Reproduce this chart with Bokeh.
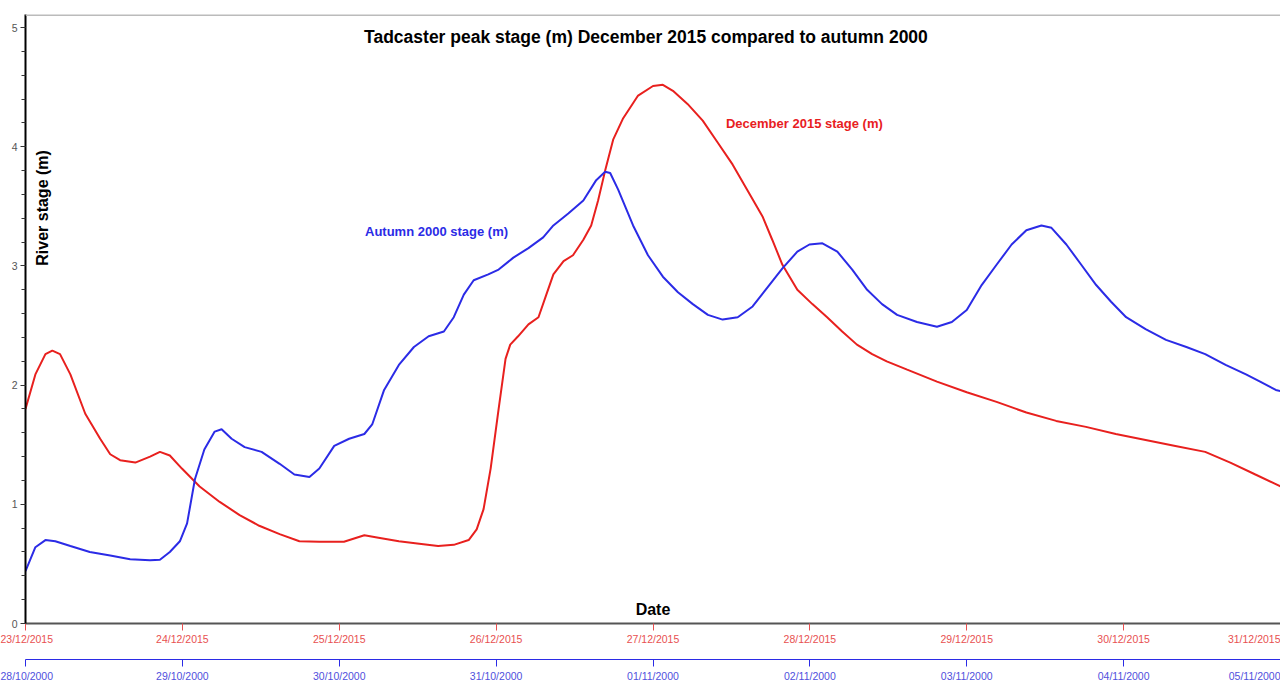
import math
from bokeh.plotting import figure
from bokeh.models import Range1d, LinearAxis, Label, Span, FixedTicker
from bokeh.embed import file_html
from bokeh.resources import INLINE

# ---- data (days from start of each window, river stage in m) ----
dec2015_day = [0, 0.063, 0.127, 0.171, 0.22, 0.286, 0.381, 0.476, 0.54, 0.603, 0.70, 0.794, 0.857, 0.92,
               0.997, 1.11, 1.238, 1.365, 1.49, 1.62, 1.746, 1.873, 2.03, 2.16, 2.25, 2.38, 2.51, 2.63,
               2.73, 2.825, 2.876, 2.92, 2.965, 3.016, 3.06, 3.09, 3.14, 3.206, 3.27, 3.32, 3.365, 3.43,
               3.49, 3.556, 3.606, 3.65, 3.695, 3.746, 3.81, 3.905, 4.0, 4.063, 4.127, 4.22, 4.317, 4.41,
               4.508, 4.60, 4.70, 4.76, 4.825, 4.92, 5.016, 5.11, 5.206, 5.30, 5.397, 5.49, 5.62, 5.81,
               6.0, 6.19, 6.38, 6.57, 6.76, 6.95, 7.14, 7.33, 7.52, 7.68, 7.84, 7.97, 8.0]
dec2015_stage = [1.80, 2.09, 2.26, 2.29, 2.26, 2.09, 1.76, 1.55, 1.42, 1.37, 1.35, 1.40, 1.44, 1.41,
                 1.30, 1.15, 1.02, 0.91, 0.82, 0.75, 0.69, 0.686, 0.686, 0.74, 0.72, 0.69, 0.67, 0.65,
                 0.66, 0.70, 0.79, 0.96, 1.30, 1.80, 2.22, 2.34, 2.41, 2.51, 2.57, 2.76, 2.93, 3.04,
                 3.09, 3.22, 3.34, 3.55, 3.80, 4.06, 4.24, 4.43, 4.51, 4.52, 4.47, 4.36, 4.22, 4.04,
                 3.85, 3.64, 3.41, 3.22, 3.01, 2.80, 2.68, 2.57, 2.45, 2.34, 2.26, 2.20, 2.13, 2.03,
                 1.94, 1.86, 1.77, 1.70, 1.65, 1.59, 1.54, 1.49, 1.44, 1.35, 1.25, 1.17, 1.15]

aut2000_day = [0, 0.063, 0.127, 0.19, 0.286, 0.41, 0.54, 0.667, 0.794, 0.857, 0.92, 0.984, 1.03, 1.08,
               1.14, 1.206, 1.25, 1.314, 1.397, 1.505, 1.62, 1.714, 1.81, 1.873, 1.968, 2.063, 2.16,
               2.21, 2.286, 2.38, 2.476, 2.57, 2.667, 2.73, 2.794, 2.857, 2.95, 3.016, 3.11, 3.206,
               3.30, 3.365, 3.46, 3.556, 3.638, 3.695, 3.727, 3.778, 3.873, 3.968, 4.063, 4.159, 4.254,
               4.35, 4.444, 4.54, 4.635, 4.73, 4.825, 4.92, 4.997, 5.08, 5.175, 5.27, 5.365, 5.46,
               5.556, 5.683, 5.81, 5.905, 6.0, 6.095, 6.19, 6.286, 6.38, 6.476, 6.54, 6.635, 6.73,
               6.825, 6.92, 7.016, 7.14, 7.27, 7.40, 7.52, 7.65, 7.78, 7.87, 7.97, 8.0]
aut2000_stage = [0.44, 0.64, 0.70, 0.69, 0.65, 0.60, 0.57, 0.54, 0.53, 0.535, 0.60, 0.69, 0.84, 1.21,
                 1.46, 1.61, 1.63, 1.55, 1.48, 1.44, 1.34, 1.25, 1.23, 1.30, 1.49, 1.55, 1.59,
                 1.67, 1.96, 2.17, 2.32, 2.41, 2.45, 2.57, 2.76, 2.88, 2.93, 2.97, 3.07, 3.15,
                 3.24, 3.34, 3.44, 3.55, 3.72, 3.79, 3.78, 3.64, 3.34, 3.09, 2.91, 2.78, 2.68,
                 2.59, 2.55, 2.57, 2.66, 2.82, 2.98, 3.12, 3.18, 3.19, 3.12, 2.97, 2.80, 2.68,
                 2.59, 2.53, 2.49, 2.53, 2.63, 2.84, 3.01, 3.18, 3.30, 3.34, 3.32, 3.18, 3.01,
                 2.84, 2.70, 2.57, 2.47, 2.38, 2.32, 2.26, 2.17, 2.09, 2.03, 1.96, 1.95]

tick_days = [0, 1, 2, 3, 4, 5, 6, 7, 8]
dec2015_labels = ["23/12/2015", "24/12/2015", "25/12/2015", "26/12/2015", "27/12/2015",
                  "28/12/2015", "29/12/2015", "30/12/2015", "31/12/2015"]
aut2000_labels = ["28/10/2000", "29/10/2000", "30/10/2000", "31/10/2000", "01/11/2000",
                  "02/11/2000", "03/11/2000", "04/11/2000", "05/11/2000"]
y_ticks = [0, 1, 2, 3, 4, 5]

RED = "#e8201e"
BLUE = "#2b2be6"
RED_LBL = "#e85050"
BLUE_LBL = "#5050dd"
FONT = "Liberation Sans"
Y_END = 5.11

p = figure(width=1280, height=684, output_backend="svg", toolbar_location=None,
           x_range=Range1d(0, 8), y_range=Range1d(0, Y_END),
           min_border_left=25, min_border_right=0, min_border_top=14, min_border_bottom=0)
p.grid.visible = False
p.outline_line_color = None
p.background_fill_color = "white"
p.border_fill_color = "white"

# y axis
ya = p.yaxis[0]
ya.ticker = FixedTicker(ticks=y_ticks, minor_ticks=[i * 0.2 for i in range(26)])
ya.axis_line_color = "black"
ya.axis_line_width = 2
ya.major_tick_out = 5
ya.major_tick_in = 0
ya.minor_tick_out = 4
ya.minor_tick_in = 0
ya.major_tick_line_color = "#333333"
ya.minor_tick_line_color = "#333333"
ya.major_label_text_font = FONT
ya.major_label_text_font_size = "10.5px"
ya.major_label_text_color = "#555555"
ya.major_label_standoff = 3

# red (2015) x axis
xa = p.xaxis[0]
xa.ticker = FixedTicker(ticks=tick_days, minor_ticks=[])
xa.major_label_overrides = {d: l for d, l in zip(tick_days, dec2015_labels)}
xa.axis_line_color = "#555555"
xa.axis_line_width = 2
xa.major_tick_out = 7
xa.major_tick_in = 0
xa.major_tick_line_color = RED_LBL
xa.minor_tick_line_color = None
xa.major_label_text_font = FONT
xa.major_label_text_font_size = "10.5px"
xa.major_label_text_color = RED_LBL
xa.major_label_standoff = 2
xa.axis_label = " "
xa.axis_label_text_font_size = "8px"
xa.axis_label_standoff = 0

# blue (2000) x axis
xb = LinearAxis(ticker=FixedTicker(ticks=tick_days, minor_ticks=[]))
xb.major_label_overrides = {d: l for d, l in zip(tick_days, aut2000_labels)}
xb.axis_line_color = BLUE
xb.axis_line_width = 1
xb.major_tick_out = 7
xb.major_tick_in = 0
xb.major_tick_line_color = BLUE
xb.minor_tick_line_color = None
xb.major_label_text_font = FONT
xb.major_label_text_font_size = "10.5px"
xb.major_label_text_color = BLUE_LBL
xb.major_label_standoff = 3
p.add_layout(xb, "below")

# top border
p.add_layout(Span(location=Y_END, dimension="width", line_color="#bbbbbb", line_width=3))

# series
p.line(dec2015_day, dec2015_stage, line_color=RED, line_width=2)
p.line(aut2000_day, aut2000_stage, line_color=BLUE, line_width=2)

# texts
p.add_layout(Label(x=3.955, y=4.925, text="Tadcaster peak stage (m) December 2015 compared to autumn 2000",
                   text_font=FONT, text_font_size="17.5px", text_font_style="bold", text_color="black",
                   text_align="center", text_baseline="middle"))
p.add_layout(Label(x=4.965, y=4.197, text="December 2015 stage (m)",
                   text_font=FONT, text_font_size="13px", text_font_style="bold", text_color=RED,
                   text_align="center", text_baseline="middle"))
p.add_layout(Label(x=2.62, y=3.286, text="Autumn 2000 stage (m)",
                   text_font=FONT, text_font_size="13px", text_font_style="bold", text_color=BLUE,
                   text_align="center", text_baseline="middle"))
p.add_layout(Label(x=4.0, y=0.117, text="Date",
                   text_font=FONT, text_font_size="16px", text_font_style="bold", text_color="black",
                   text_align="center", text_baseline="middle"))
p.add_layout(Label(x=0.108, y=3.487, text="River stage (m)", angle=math.pi / 2,
                   text_font=FONT, text_font_size="16px", text_font_style="bold", text_color="black",
                   text_align="center", text_baseline="middle"))

open("out.html", "w").write(file_html(p, INLINE))
